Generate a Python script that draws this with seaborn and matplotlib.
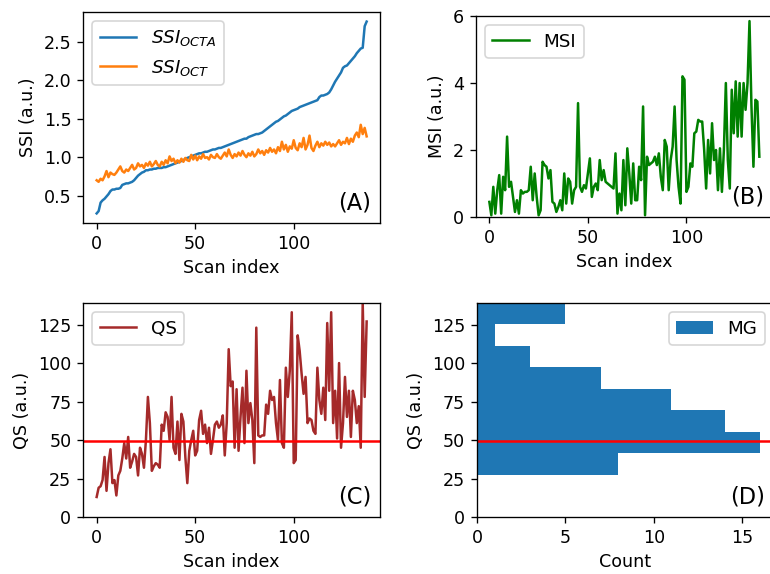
import matplotlib
matplotlib.use('Agg')
import numpy as np
import matplotlib.pyplot as plt
import seaborn as sns
from matplotlib.ticker import MultipleLocator

# ---------------- data ----------------
ssi_octa = [
    0.27, 0.30, 0.41, 0.44, 0.46, 0.49, 0.52, 0.56, 0.58, 0.58,
    0.59, 0.59, 0.60, 0.64, 0.65, 0.66, 0.66, 0.67, 0.68, 0.70,
    0.73, 0.76, 0.78, 0.80, 0.81, 0.83, 0.83, 0.84, 0.84, 0.85,
    0.85, 0.86, 0.86, 0.86, 0.87, 0.87, 0.88, 0.89, 0.90, 0.91,
    0.92, 0.93, 0.94, 0.95, 0.96, 0.98, 0.99, 1.00, 1.01, 1.02,
    1.03, 1.04, 1.05, 1.05, 1.06, 1.07, 1.07, 1.08, 1.09, 1.10,
    1.10, 1.11, 1.12, 1.12, 1.13, 1.14, 1.15, 1.16, 1.17, 1.18,
    1.19, 1.20, 1.21, 1.22, 1.23, 1.24, 1.24, 1.26, 1.27, 1.28,
    1.29, 1.30, 1.30, 1.31, 1.32, 1.34, 1.36, 1.38, 1.40, 1.42,
    1.44, 1.46, 1.47, 1.49, 1.51, 1.53, 1.54, 1.56, 1.58, 1.60,
    1.61, 1.62, 1.63, 1.65, 1.66, 1.67, 1.68, 1.69, 1.70, 1.71,
    1.72, 1.73, 1.74, 1.78, 1.80, 1.80, 1.81, 1.82, 1.84, 1.88,
    1.93, 1.98, 2.02, 2.06, 2.10, 2.16, 2.18, 2.19, 2.22, 2.25,
    2.28, 2.31, 2.35, 2.38, 2.41, 2.42, 2.70, 2.76,
]
ssi_oct = [
    0.70, 0.68, 0.72, 0.70, 0.75, 0.82, 0.74, 0.80, 0.78, 0.77,
    0.80, 0.84, 0.88, 0.82, 0.80, 0.84, 0.82, 0.86, 0.90, 0.84,
    0.86, 0.92, 0.88, 0.90, 0.86, 0.92, 0.89, 0.94, 0.88, 0.91,
    0.95, 0.90, 0.88, 0.94, 0.90, 0.96, 0.92, 1.01, 0.95, 0.98,
    0.92, 0.96, 0.93, 0.98, 0.94, 0.99, 0.96, 0.95, 1.03, 0.97,
    1.02, 0.96, 1.01, 0.98, 1.04, 0.99, 1.00, 0.97, 1.03, 1.00,
    0.99, 1.04, 1.00, 0.98, 1.02, 1.06, 1.01, 1.10, 1.03, 0.99,
    1.04, 1.01, 1.06, 1.02, 1.08, 1.03, 1.00, 1.05, 1.02, 1.07,
    1.01, 1.04, 1.10, 1.05, 1.08, 1.03, 1.09, 1.06, 1.12, 1.07,
    1.10, 1.05, 1.13, 1.08, 1.20, 1.10, 1.16, 1.07, 1.14, 1.11,
    1.22, 1.12, 1.09, 1.18, 1.13, 1.25, 1.10, 1.16, 1.28, 1.12,
    1.08, 1.15, 1.20, 1.13, 1.18, 1.15, 1.20, 1.16, 1.19, 1.14,
    1.17, 1.14, 1.18, 1.22, 1.16, 1.20, 1.18, 1.25, 1.17, 1.24,
    1.20, 1.28, 1.32, 1.26, 1.42, 1.30, 1.38, 1.27,
]
msi = [
    0.45, 0.05, 0.90, 0.10, 0.80, 1.25, 0.10, 1.20, 0.80, 2.40,
    0.90, 1.05, 0.60, 0.15, 0.50, 0.10, 0.80, 0.70, 0.75, 0.75,
    0.80, 1.50, 0.50, 1.30, 0.60, 0.05, 0.20, 1.65, 1.55, 1.50,
    1.15, 1.40, 0.45, 0.40, 0.15, 0.30, 0.50, 0.20, 1.30, 0.40,
    1.15, 1.05, 0.40, 0.80, 0.90, 3.40, 0.90, 0.75, 0.95, 0.85,
    1.30, 1.75, 0.60, 0.90, 1.00, 0.80, 1.70, 1.10, 1.40, 1.05,
    1.00, 0.95, 0.90, 0.85, 1.90, 0.10, 0.70, 0.20, 1.70, 0.35,
    2.05, 1.30, 0.40, 1.60, 0.50, 0.50, 1.50, 1.10, 3.30, 0.05,
    1.80, 1.55, 1.60, 1.65, 1.80, 1.55, 1.90, 1.20, 0.80, 2.30,
    2.10, 0.80, 1.70, 2.10, 3.30, 1.70, 0.90, 0.40, 4.20, 4.10,
    0.75, 0.90, 1.60, 1.50, 2.50, 2.55, 2.90, 2.85, 2.85, 2.00,
    0.85, 2.30, 1.30, 2.80, 1.70, 2.00, 0.80, 2.05, 0.75, 2.00,
    4.00, 1.70, 0.85, 3.80, 2.50, 4.05, 2.40, 4.00, 2.40, 4.00,
    3.20, 4.00, 5.85, 3.30, 1.50, 3.50, 3.45, 1.80,
]
qs = [
    13, 19, 20, 24, 39, 17, 35, 44, 22, 24,
    14, 27, 30, 38, 48, 38, 52, 32, 36, 41,
    39, 27, 45, 41, 32, 50, 78, 61, 30, 33,
    35, 34, 32, 60, 56, 68, 65, 50, 78, 45,
    41, 62, 37, 67, 62, 39, 22, 43, 50, 56,
    40, 43, 63, 69, 54, 60, 48, 58, 41, 50,
    60, 62, 58, 60, 66, 40, 61, 109, 85, 88,
    45, 83, 43, 65, 84, 48, 95, 61, 74, 63,
    35, 123, 53, 52, 53, 53, 73, 67, 82, 76,
    78, 61, 50, 89, 48, 45, 97, 78, 95, 133,
    35, 37, 118, 108, 93, 80, 91, 61, 64, 63,
    56, 54, 97, 76, 67, 84, 63, 126, 82, 133,
    61, 82, 51, 100, 45, 61, 91, 65, 82, 52,
    82, 76, 61, 72, 45, 139, 78, 127,
]
qs_threshold = 49.5

# histogram of QS for the MG group
mg_bin_edges = [27.5, 41.4, 55.4, 69.3, 83.3, 97.2, 111.1, 125.1, 139.0]
mg_counts = [8, 16, 14, 11, 7, 3, 1, 5]

# ------------------------------------------------------------
plt.rcParams['font.size'] = 10.5
plt.rcParams['legend.fontsize'] = 11

fig = plt.figure(figsize=(770 / 120, 574 / 120), dpi=120)
ax_a = fig.add_axes([0.108, 0.6115, 0.3857, 0.3676])
ax_b = fig.add_axes([0.618, 0.622, 0.3857, 0.350])
ax_c = fig.add_axes([0.108, 0.0993, 0.3857, 0.3728])
ax_d = fig.add_axes([0.6195, 0.0993, 0.3857, 0.3728])

# (A) SSI
sns.lineplot(x=np.arange(len(ssi_octa)), y=ssi_octa, ax=ax_a,
             color='#1f77b4', label=r'$SSI_{OCTA}$')
sns.lineplot(x=np.arange(len(ssi_oct)), y=ssi_oct, ax=ax_a,
             color='#ff7f0e', label=r'$SSI_{OCT}$')
ax_a.set_xlabel('Scan index')
ax_a.set_ylabel('SSI (a.u.)')
ax_a.legend(loc='upper left')

# (B) MSI
sns.lineplot(x=np.arange(len(msi)), y=msi, ax=ax_b, color='green', label='MSI')
ax_b.set_ylim(0, 6)
ax_b.yaxis.set_major_locator(MultipleLocator(2))
ax_b.set_xlabel('Scan index')
ax_b.set_ylabel('MSI (a.u.)')
ax_b.legend(loc='upper left')

# (C) QS
sns.lineplot(x=np.arange(len(qs)), y=qs, ax=ax_c, color='brown', label='QS')
ax_c.axhline(qs_threshold, color='red', linewidth=1.5)
ax_c.set_ylim(0, max(qs))
ax_c.yaxis.set_major_locator(MultipleLocator(25))
ax_c.set_xlabel('Scan index')
ax_c.set_ylabel('QS (a.u.)')
ax_c.legend(loc='upper left')

# (D) histogram
centers = [(a + b) / 2 for a, b in zip(mg_bin_edges[:-1], mg_bin_edges[1:])]
sns.histplot(y=centers, weights=mg_counts, bins=mg_bin_edges, ax=ax_d,
             color='#1f77b4', alpha=1, linewidth=0, label='MG')
ax_d.axhline(qs_threshold, color='red', linewidth=1.5)
ax_d.set_ylim(0, max(qs))
ax_d.set_xlim(0, max(mg_counts) * 1.05)
ax_d.yaxis.set_major_locator(MultipleLocator(25))
ax_d.xaxis.set_major_locator(MultipleLocator(5))
ax_d.set_xlabel('Count')
ax_d.set_ylabel('QS (a.u.)')
ax_d.legend(loc='upper right')

for ax, tag in zip([ax_a, ax_b, ax_c, ax_d], ['(A)', '(B)', '(C)', '(D)']):
    ax.text(0.97, 0.04, tag, transform=ax.transAxes, ha='right', va='bottom',
            fontsize=13.5)

fig.savefig('out.png', dpi=120)
